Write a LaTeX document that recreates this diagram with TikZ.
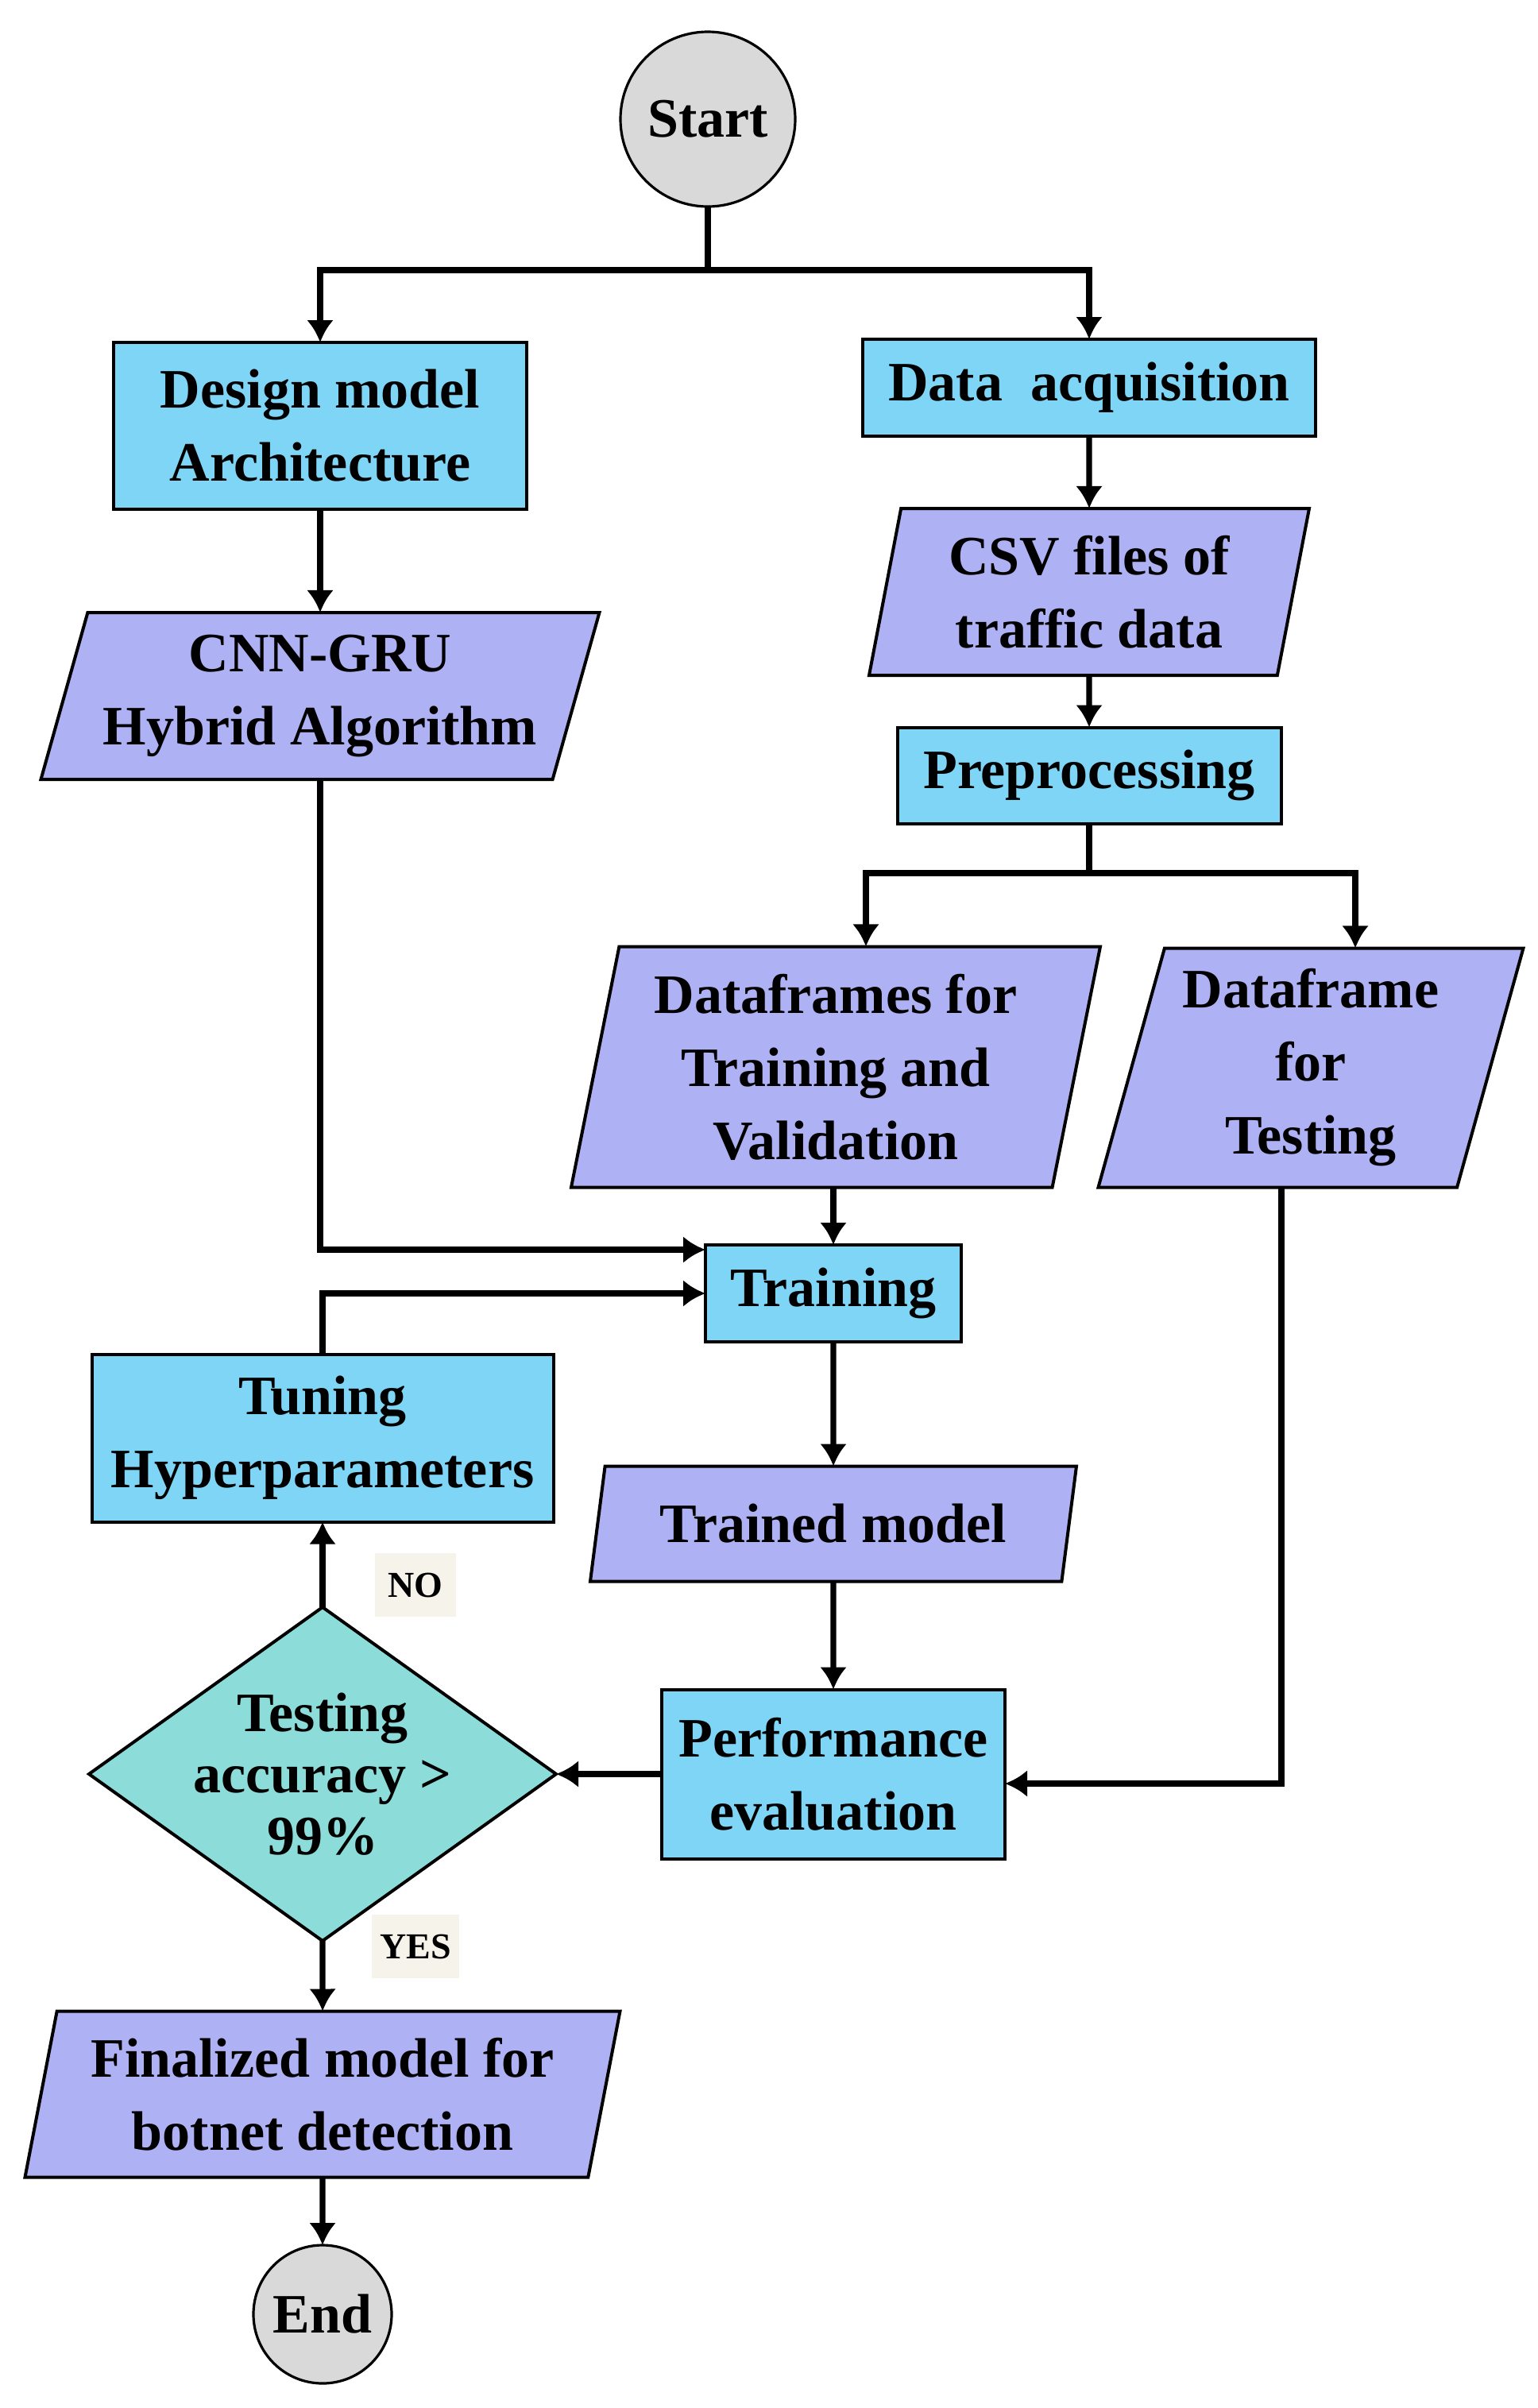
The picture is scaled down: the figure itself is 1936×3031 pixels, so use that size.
\documentclass[tikz,border=0pt]{standalone}
\usepackage{fontspec}
\setmainfont{Liberation Serif}
\usetikzlibrary{arrows.meta}
\usetikzlibrary{shapes.geometric}

\definecolor{procblue}{HTML}{7FD5F5}
\definecolor{datapurple}{HTML}{AEB1F3}
\definecolor{decteal}{HTML}{8CDDD9}
\definecolor{termgray}{HTML}{D9D9D9}
\definecolor{lblbeige}{HTML}{F5F3EA}

\begin{document}
\begin{tikzpicture} [x=.25pt, y=-.25pt,
  txt/.style={font=\bfseries\fontsize{17.5}{23}\selectfont, align=center, inner sep=1pt, outer sep=0pt},
  term/.style={txt, circle, draw, line width=.8pt, fill=termgray},
  proc/.style={txt, rectangle, draw, line width=1pt, fill=procblue},
  data/.style={txt, trapezium, trapezium stretches body, draw, line width=1pt, fill=datapurple},
  decision/.style={txt, font=\bfseries\fontsize{17.5}{19.4}\selectfont, diamond, aspect=1.4, inner sep=-8pt, draw, line width=1pt, fill=decteal},
  lbl/.style={font=\bfseries\fontsize{11.5}{13}\selectfont, fill=lblbeige, inner sep=0pt},
  arr/.style={-{Latex[length=7pt,width=8.5pt]}, line width=1.8pt},
  conn/.style={line width=1.8pt}]
\useasboundingbox (0,0) rectangle (1936,3031);

\node[term, minimum size=55pt] (start) at (891,150) {Start};
\node[proc, minimum width=130pt, minimum height=52.5pt] (design) at (403,536) {Design model\\Architecture};
\node[proc, minimum width=142.5pt, minimum height=30.5pt] (acq) at (1371,488) {Data\ \ acquisition};
\node[data, trapezium left angle=75, trapezium right angle=105, minimum width=138.5pt, minimum height=52.5pt] (csv) at (1371,745) {CSV files of\\traffic data};
\node[proc, minimum width=120.75pt, minimum height=30.25pt] (pre) at (1371,976) {Preprocessing};
\node[data, trapezium left angle=70, trapezium right angle=110, minimum width=175.75pt, minimum height=52.5pt] (cnn) at (403,876) {CNN-GRU\\Hybrid Algorithm};
\node[data, trapezium left angle=76, trapezium right angle=104, minimum width=166.5pt, minimum height=75.75pt] (dftrain) at (1052,1343) {Dataframes for\\Training and\\Validation};
\node[data, trapezium left angle=72, trapezium right angle=108, minimum width=133.75pt, minimum height=75.25pt] (dftest) at (1650,1344) {Dataframe\\for\\Testing};
\node[proc, minimum width=80.5pt, minimum height=30.5pt] (train) at (1049,1628) {Training};
\node[proc, minimum width=145.25pt, minimum height=52.75pt] (tune) at (406,1810) {Tuning\\Hyperparameters};
\node[data, trapezium left angle=72, trapezium right angle=108, minimum width=153pt, minimum height=36.25pt] (trained) at (1049,1918) {Trained model};
\node[proc, minimum width=108pt, minimum height=53.25pt] (perf) at (1049,2233) {Performance\\evaluation};
\node[decision, minimum width=147pt, minimum height=105pt] (test) at (406,2233) {Testing\\accuracy >\\99\%};
\node[data, trapezium left angle=75, trapezium right angle=105, minimum width=187.25pt, minimum height=52.25pt] (final) at (406,2636) {Finalized model for\\botnet detection};
\node[term, minimum size=43.5pt] (end) at (406,2913) {End};
\node[lbl, minimum width=25.5pt, minimum height=20pt] (no) at (523,1995) {NO};
\node[lbl, minimum width=27.5pt, minimum height=20pt] (yes) at (523,2450) {YES};

\coordinate (s1) at (891,340);
\coordinate (s2) at (1371,1099);
\coordinate (s2l) at (1090,1099);
\coordinate (s2r) at (1706,1099);
\coordinate (t1) at (1613,2245);

\draw[arr] (start) -- (s1) -| (design);
\draw[arr] (s1) -| (acq);
\draw[arr] (design) -- (cnn);
\draw[arr] (acq) -- (csv);
\draw[arr] (csv) -- (pre);
\draw[arr] (pre) -- (s2) -| (s2l |- dftrain.north);
\draw[arr] (s2) -| (s2r |- dftest.north);
\draw[arr] (dftrain.south -| train.north) -- (train.north);
\draw[arr] (cnn) |- ([yshift=-1.5pt]train.north west);
\draw[arr] (tune) |- (train);
\draw[arr] (train) -- (trained);
\draw[arr] (trained) -- (perf);
\draw[arr] (dftest.south -| t1) -- (t1) -- (t1 -| perf.east);
\draw[arr] (perf) -- (test);
\draw[arr] (test) -- (tune);
\draw[arr] (test) -- (final);
\draw[arr] (final) -- (end);
\end{tikzpicture}
\end{document}
